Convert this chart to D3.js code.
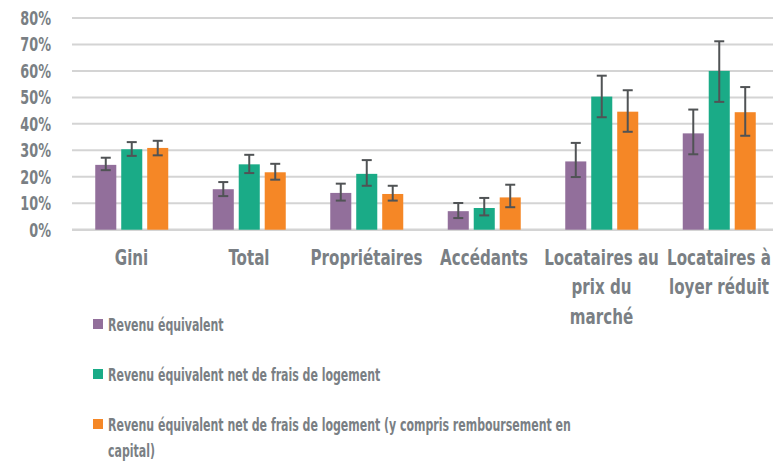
<!DOCTYPE html>
<html>
<head>
<meta charset="utf-8">
<script src="https://cdn.jsdelivr.net/npm/d3@7"></script>
<style>
  body { margin: 0; background: #fff; }
  text { font-family: "DejaVu Sans Condensed", "DejaVu Sans", sans-serif; font-weight: bold; fill: #7a7f84; }
</style>
</head>
<body>
<svg width="773" height="461"></svg>
<script>
var categories = ["Gini", "Total", "Propriétaires", "Accédants", "Locataires au prix du marché", "Locataires à loyer réduit"];
var seriesNames = ["Revenu équivalent",
    "Revenu équivalent net de frais de logement",
    "Revenu équivalent net de frais de logement (y compris remboursement en capital)"];
var colors = ["#926f9b", "#1aab87", "#f58726"];

// values and error bar bounds, in %
var revenu      = [24.5, 15.3, 13.9,  7.0, 25.8, 36.4];
var revenuLow   = [22.5, 12.7, 11.0,  4.4, 19.9, 28.5];
var revenuHigh  = [27.2, 18.0, 17.4, 10.1, 32.8, 45.4];
var net         = [30.4, 24.7, 21.1,  8.2, 50.3, 60.0];
var netLow      = [27.9, 21.4, 16.6,  5.4, 42.5, 48.3];
var netHigh     = [33.1, 28.3, 26.3, 12.0, 58.2, 71.2];
var netCap      = [30.9, 21.7, 13.5, 12.2, 44.6, 44.4];
var netCapLow   = [28.1, 18.9, 11.0,  8.5, 37.0, 35.5];
var netCapHigh  = [33.6, 24.9, 16.6, 17.0, 52.7, 53.9];
var yTicks = [0, 10, 20, 30, 40, 50, 60, 70, 80];

var series = [
    {name: seriesNames[0], values: revenu, low: revenuLow, high: revenuHigh},
    {name: seriesNames[1], values: net, low: netLow, high: netHigh},
    {name: seriesNames[2], values: netCap, low: netCapLow, high: netCapHigh}
];

// horizontal squeeze, the original font is a condensed one
var K_TICK = 0.75, K_CAT = 0.82, K_LEG = 0.66;

var svg = d3.select("svg");

var x0 = d3.scaleBand().domain(categories).range([72.75, 777.75]);
var x1 = d3.scaleBand().domain([0, 1, 2]).range([22.5, 95.5]).paddingInner(0.19);
var y = d3.scaleLinear().domain([0, 80]).range([229.7, 18]);

// grid
svg.append("g").selectAll("line")
    .data(yTicks)
    .enter().append("line")
    .attr("x1", 72).attr("x2", 773)
    .attr("y1", function (d) { return y(d); })
    .attr("y2", function (d) { return y(d); })
    .attr("stroke", "#d4d4d4")
    .attr("stroke-width", function (d) { return d === 0 ? 2.5 : 2; });

// y labels
svg.append("g").selectAll("text")
    .data(yTicks)
    .enter().append("text")
    .attr("transform", function (d) { return "translate(51," + y(d) + ") scale(" + K_TICK + ",1)"; })
    .attr("dy", "0.36em")
    .attr("text-anchor", "end")
    .style("font-size", "19px")
    .text(function (d) { return d + "%"; });

// bars
var groups = svg.append("g").selectAll("g")
    .data(series)
    .enter().append("g");

groups.each(function (s, si) {
    var g = d3.select(this);
    var cx = function (i) { return x0(categories[i]) + x1(si) + x1.bandwidth() / 2; };
    g.selectAll("rect")
        .data(s.values)
        .enter().append("rect")
        .attr("x", function (d, i) { return x0(categories[i]) + x1(si); })
        .attr("width", x1.bandwidth())
        .attr("y", function (d) { return y(d); })
        .attr("height", function (d) { return y(0) - y(d); })
        .attr("fill", colors[si]);

    var eb = g.selectAll(".err")
        .data(s.values)
        .enter().append("g").attr("class", "err")
        .attr("stroke", "#505355")
        .attr("stroke-width", 2);
    eb.append("line")
        .attr("x1", function (d, i) { return cx(i); })
        .attr("x2", function (d, i) { return cx(i); })
        .attr("y1", function (d, i) { return y(s.low[i]); })
        .attr("y2", function (d, i) { return y(s.high[i]); });
    [s.low, s.high].forEach(function (arr) {
        eb.append("line")
            .attr("x1", function (d, i) { return cx(i) - 5; })
            .attr("x2", function (d, i) { return cx(i) + 5; })
            .attr("y1", function (d, i) { return y(arr[i]); })
            .attr("y2", function (d, i) { return y(arr[i]); });
    });
});

// wrap text into lines that fit maxW (in screen px, after squeeze k)
function wrap(textSel, str, maxW, lineH, k) {
    var words = str.split(" "), line = [], lines = [];
    var t = textSel.append("tspan");
    words.forEach(function (w) {
        line.push(w);
        t.text(line.join(" "));
        if (t.node().getComputedTextLength() * k > maxW && line.length > 1) {
            line.pop();
            lines.push(line.join(" "));
            line = [w];
        }
    });
    lines.push(line.join(" "));
    t.remove();
    lines.forEach(function (l, i) {
        textSel.append("tspan")
            .attr("x", 0)
            .attr("dy", i === 0 ? 0 : lineH)
            .text(l);
    });
}

// category labels
svg.append("g").selectAll("text")
    .data(categories)
    .enter().append("text")
    .attr("transform", function (d) { return "translate(" + (x0(d) + x0.bandwidth() / 2) + ",265) scale(" + K_CAT + ",1)"; })
    .attr("text-anchor", "middle")
    .style("font-size", "20.5px")
    .each(function (d) { wrap(d3.select(this), d, x0.bandwidth() + 4, 29.5, K_CAT); });

// legend
var leg = svg.append("g").selectAll("g")
    .data(series)
    .enter().append("g")
    .attr("transform", function (d, i) { return "translate(93," + (324 + i * 50) + ")"; });
leg.append("rect")
    .attr("x", 0).attr("y", -5).attr("width", 10).attr("height", 10)
    .attr("fill", function (d, i) { return colors[i]; });
leg.append("text")
    .attr("transform", "translate(15,6.5) scale(" + K_LEG + ",1)")
    .style("font-size", "18.5px")
    .each(function (d) { wrap(d3.select(this), d.name, 490, 27, K_LEG); });
</script>
</body>
</html>
